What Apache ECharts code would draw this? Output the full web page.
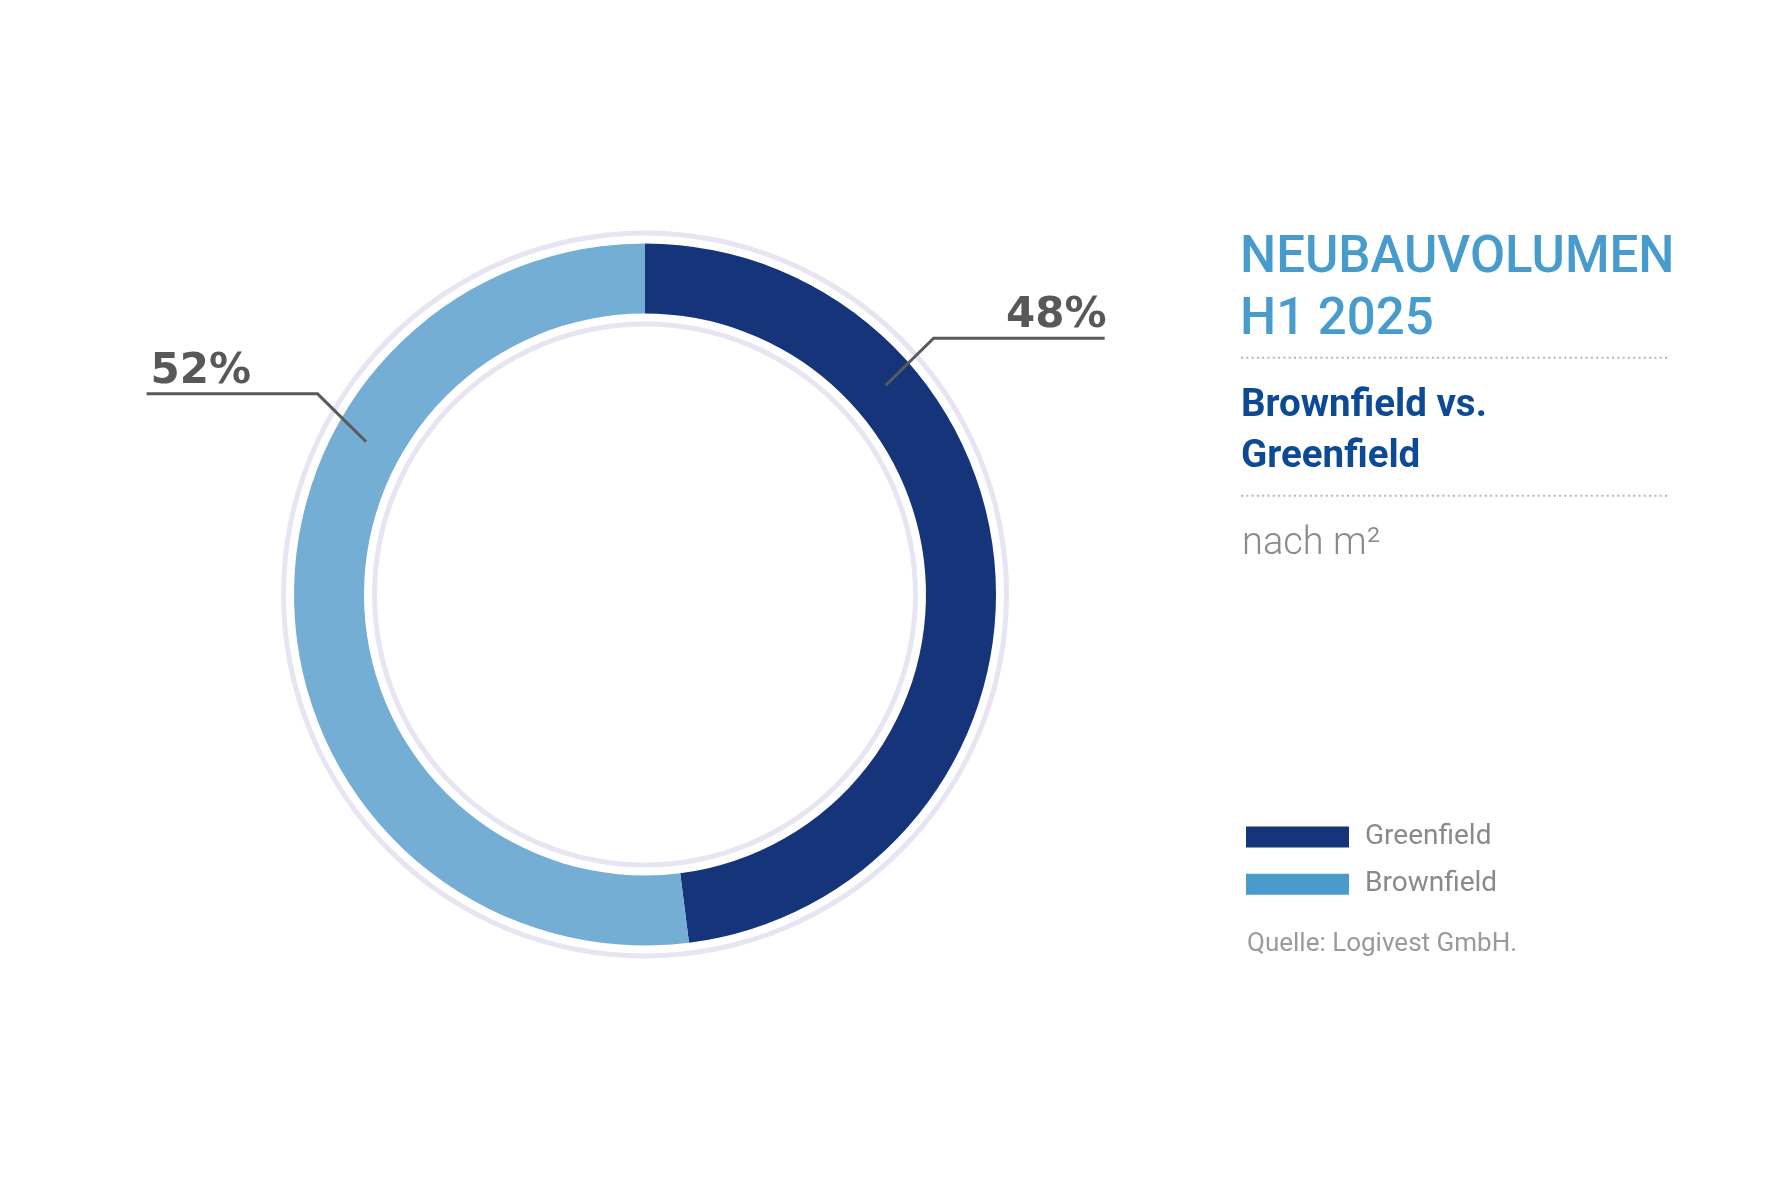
<!DOCTYPE html>
<html>
<head>
<meta charset="utf-8">
<script src="https://cdn.jsdelivr.net/npm/echarts@6/dist/echarts.min.js"></script>
<style>
html,body{margin:0;padding:0;background:#fff;}
#chart{width:1772px;height:1181px;}
</style>
</head>
<body>
<div id="chart"></div>
<script>
// ---- data ----
const categories = ['Greenfield', 'Brownfield'];
const shares = [48, 52];
const titleLines = ['NEUBAUVOLUMEN', 'H1 2025'];
const subtitleLines = ['Brownfield vs.', 'Greenfield'];
const unitText = 'nach m²';
const sourceText = 'Quelle: Logivest GmbH.';
const ringDecor = [1];

// ---- styling / layout ----
const CX = 645, CY = 594.5;
const sliceColors = ['#15347A', '#75AED4'];
const legendColors = ['#15347A', '#4A9BCB'];
const labelGeom = [
  { startAngle: 41, startR: 319, elbowAngle: 41.6, elbowR: 386, side: 1, textShift: 2 },
  { startAngle: 151.3, startR: 318, elbowAngle: 148.5, elbowR: 384, side: -1, textShift: 4 }
];
const LEN2 = 171;

function pt(angleDeg, r) {
  const a = angleDeg * Math.PI / 180;
  return [CX + r * Math.cos(a), CY - r * Math.sin(a)];
}

const chart = echarts.init(document.getElementById('chart'), null, { renderer: 'canvas' });

const option = {
  backgroundColor: '#ffffff',
  animation: false,
  title: [
    {
      text: titleLines.join('\n'),
      left: 1235, top: 223,
      textStyle: { fontFamily: 'Roboto', fontWeight: 500, fontSize: 51, lineHeight: 62, color: '#489CCD' }
    },
    {
      text: subtitleLines.join('\n'),
      left: 1236, top: 376.3,
      textStyle: { fontFamily: 'Roboto', fontWeight: 'bold', fontSize: 38.5, lineHeight: 50.4, color: '#0D4A95' }
    },
    {
      text: unitText,
      left: 1237, top: 520.5,
      textStyle: { fontFamily: 'Roboto', fontWeight: 300, fontSize: 38, lineHeight: 38, color: '#8A8A8A' }
    },
    {
      text: sourceText,
      left: 1242, top: 926.5,
      textStyle: { fontFamily: 'Roboto', fontWeight: 400, fontSize: 26, lineHeight: 26, color: '#9A9A9A' }
    }
  ],
  legend: {
    orient: 'vertical',
    left: 1246, top: 823,
    padding: 0,
    itemWidth: 103, itemHeight: 21, itemGap: 19.3,
    icon: 'rect',
    selectedMode: false,
    textStyle: { fontFamily: 'Roboto', fontSize: 28, color: '#8A8A8A', padding: [7, 0, 0, 11] },
    data: categories.map((c, i) => ({ name: c, itemStyle: { color: legendColors[i] } }))
  },
  graphic: [
    { type: 'line', shape: { x1: 1241, y1: 357.7, x2: 1667, y2: 357.7 },
      style: { stroke: '#B5B5B5', lineWidth: 2, lineDash: [2, 3.3] }, silent: true },
    { type: 'line', shape: { x1: 1241, y1: 495.7, x2: 1667, y2: 495.7 },
      style: { stroke: '#B5B5B5', lineWidth: 2, lineDash: [2, 3.3] }, silent: true }
  ],
  series: [
    {
      type: 'pie', silent: true, center: [CX, CY], radius: [359, 364],
      label: { show: false }, labelLine: { show: false },
      itemStyle: { color: '#E6E5F1' },
      data: ringDecor.map(v => ({ value: v, name: 'outerRing' }))
    },
    {
      type: 'pie', silent: true, center: [CX, CY], radius: [268, 273],
      label: { show: false }, labelLine: { show: false },
      itemStyle: { color: '#E6E5F1' },
      data: ringDecor.map(v => ({ value: v, name: 'innerRing' }))
    },
    {
      name: 'Anteil',
      type: 'pie',
      center: [CX, CY],
      radius: [281, 351],
      startAngle: 90,
      clockwise: true,
      itemStyle: { borderWidth: 0 },
      label: { show: false },
      labelLine: { show: false },
      data: categories.map((c, i) => ({ name: c, value: shares[i], itemStyle: { color: sliceColors[i] } }))
    },
    {
      // transparent overlay carrying the labels so the guide lines sit above the ring
      name: 'Labels',
      type: 'pie',
      z: 5,
      silent: true,
      legendHoverLink: false,
      center: [CX, CY],
      radius: [281, 351],
      startAngle: 90,
      clockwise: true,
      avoidLabelOverlap: false,
      itemStyle: { color: 'rgba(0,0,0,0)', borderWidth: 0 },
      label: {
        show: true,
        formatter: '{c}%',
        fontFamily: 'DejaVu Sans',
        fontWeight: 'bold',
        fontSize: 42,
        color: '#585858'
      },
      labelLine: { show: true, showAbove: true, lineStyle: { color: '#5A5A5A', width: 3 } },
      labelLayout: function (params) {
        const g = labelGeom[params.dataIndex];
        const s = pt(g.startAngle, g.startR);
        const e = pt(g.elbowAngle, g.elbowR);
        const f = [e[0] + g.side * LEN2, e[1]];
        return {
          x: f[0] + g.textShift,
          y: e[1] - 1,
          align: g.side > 0 ? 'right' : 'left',
          verticalAlign: 'bottom',
          labelLinePoints: [s, e, f]
        };
      },
      data: categories.map((c, i) => ({ name: c + ' ', value: shares[i] }))
    }
  ]
};
chart.setOption(option);
</script>
</body>
</html>
